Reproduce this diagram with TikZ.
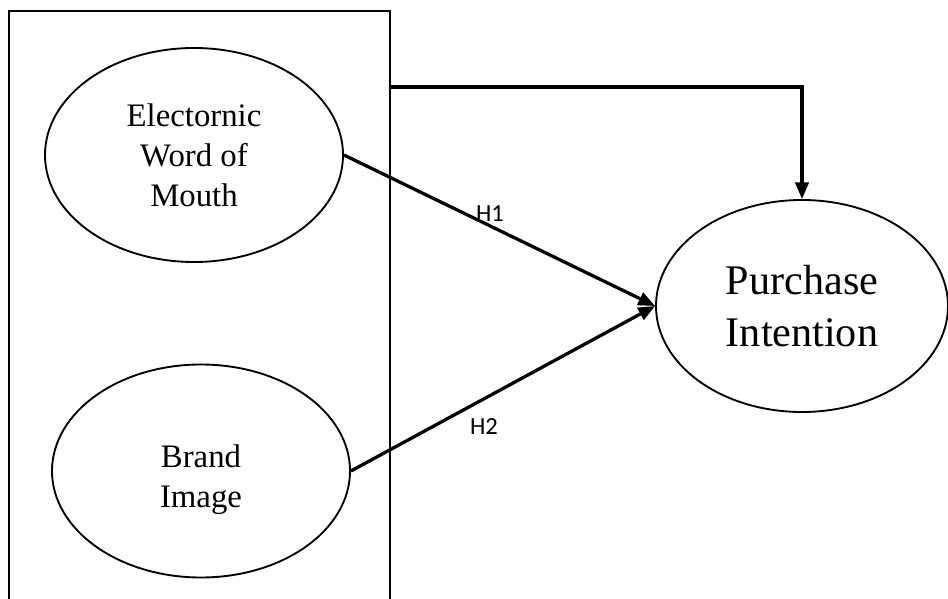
\documentclass[tikz,border=0pt]{standalone}
\usepackage{fontspec}
\setmainfont{Liberation Serif}
\newfontfamily\hypfont{Carlito}
\usetikzlibrary{shapes.geometric,arrows.meta}

\begin{document}
\begin{tikzpicture}[x=0.3mm,y=-0.3mm,
  construct/.style={draw,ellipse,line width=1.6pt,inner sep=0pt,align=center,
    font=\fontsize{28}{34}\selectfont},
  path/.style={line width=2.8pt,-{Triangle[length=5mm,width=4mm]}},
  hyp/.style={font=\hypfont\fontsize{21}{24}\selectfont}]
\clip (0,0) rectangle (948,599);
\draw[line width=1.8pt] (9,620) -- (9,11) -- (390,11) -- (390,620);
\node[construct,minimum width=89.4mm,minimum height=64.2mm] (ewom) at (194,155)
  {Electornic\\Word of\\Mouth};
\node[construct,minimum width=89.4mm,minimum height=63.9mm] (bi) at (201,471)
  {\strut\\[-24pt]Brand\\Image};
\node[construct,minimum width=87.6mm,minimum height=63.6mm,
  font=\fontsize{36}{45}\selectfont] (pi) at (802,306) {Purchase\\Intention};
\coordinate (fork) at (390,87);
\draw[path] (fork) -| (pi.north);
\draw[path] (ewom.east) -- (pi.west);
\draw[path] (bi.east) -- (pi.west);
\node[hyp] (h1) at (490,214) {H1};
\node[hyp] (h2) at (484,427) {H2};
\end{tikzpicture}
\end{document}
